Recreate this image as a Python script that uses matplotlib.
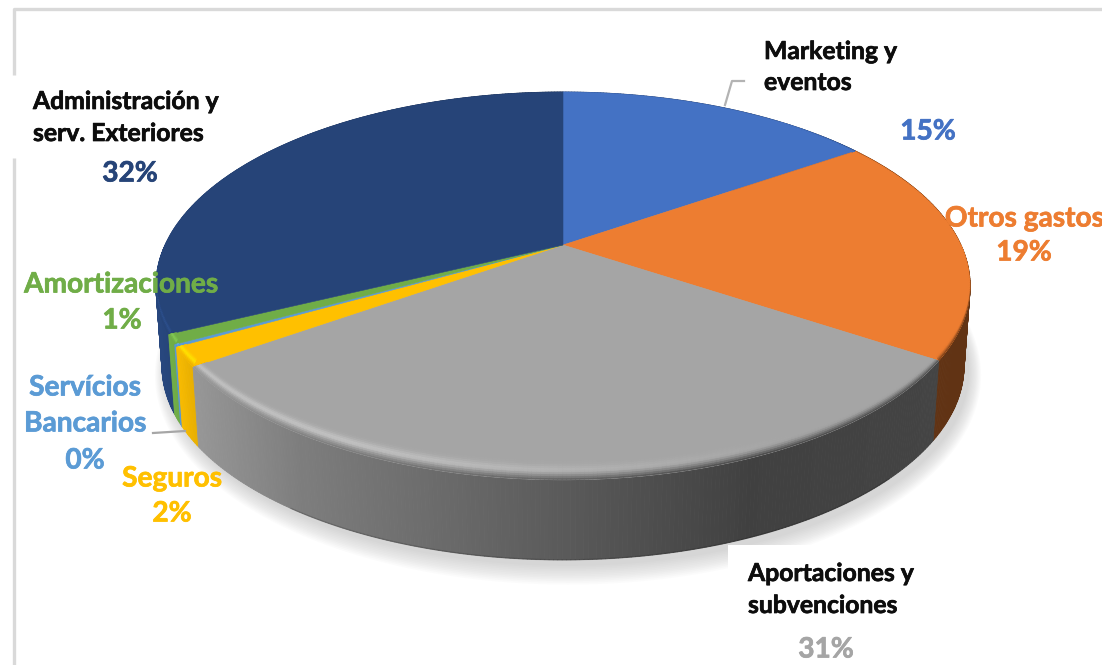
import matplotlib
matplotlib.use("Agg")
import matplotlib.pyplot as plt
import matplotlib.patheffects as pe
import numpy as np
from matplotlib.collections import PolyCollection
from matplotlib.colors import to_rgb
from matplotlib.patches import Polygon, Rectangle

# shares (percent), clockwise from 12 o'clock
categories = ["Marketing y eventos", "Otros gastos", "Aportaciones y subvenciones", "Seguros",
              "Servícios Bancarios", "Amortizaciones", "Administración y serv. Exteriores"]
shares = [15.4, 18.9, 30.9, 1.6, 0.2, 0.8, 32.2]
percent_labels = ["15%", "19%", "31%", "2%", "0%", "1%", "32%"]
colors = ["#4472c4", "#ed7d31", "#a5a5a5", "#ffc000", "#5b9bd5", "#70ad47", "#264478"]

W, H = 1102, 665
CX, CY = 563, 245
RX, RY, PERSP = 398, 185.3, 0.211
DEPTH, SHRINK = 80, 0.985


def project(theta, bottom=False, r=1.0):
    # disc -> screen, a small perspective turns the circle into an off-centre ellipse
    u, v = r * np.sin(theta), r * np.cos(theta)
    x = RX * u / (1 + PERSP * v)
    y = CY - RY * v / (1 + PERSP * v)
    if bottom:
        return CX + x * SHRINK, y + DEPTH
    return CX + x, y


def wall_shade(x):
    return np.interp(x, [160, 190, 300, 560, 750, 930, 975], [1.05, 0.92, 0.76, 0.55, 0.39, 0.41, 0.41])


plt.rcParams["font.family"] = ["Lato", "DejaVu Sans"]
fig = plt.figure(figsize=(W / 100, H / 100), dpi=100)
ax = fig.add_axes([0, 0, 1, 1])
ax.set_xlim(0, W)
ax.set_ylim(H, 0)
ax.axis("off")

# frame of the original screenshot
ax.plot([13.5, 13.5], [H, 158], color="#d9d9d9", lw=2.4, zorder=1, solid_capstyle="butt")
ax.plot([13.5, 13.5, W], [75, 8.5, 8.5], color="#d9d9d9", lw=2.4, zorder=1, solid_capstyle="butt")

# soft shadow under the pie
all_t = np.linspace(0, 2 * np.pi, 361)
bx, by = project(all_t, bottom=True)
for k in np.linspace(0, 1, 12):
    sx = CX + 5 + (bx - CX) * (1 + 0.03 * (1 - k))
    sy = CY + DEPTH + 6 + (by - CY - DEPTH) * (1 + 0.08 * (1 - k))
    ax.add_patch(Polygon(np.c_[sx, sy], closed=True, fc="#808080", ec="none", alpha=0.028, zorder=2))

edges = np.radians(np.r_[0, np.cumsum(shares)] * 3.6)

# side wall
quads, quad_cols, quad_y = [], [], []
for i, col in enumerate(colors):
    base = np.array(to_rgb(col))
    n = max(2, int(np.degrees(edges[i + 1] - edges[i]) * 2))
    t = np.linspace(edges[i], edges[i + 1], n + 1)
    tx, ty = project(t)
    ox, oy = project(t, bottom=True)
    for j in range(n):
        quads.append([(tx[j], ty[j]), (tx[j + 1], ty[j + 1]), (ox[j + 1], oy[j + 1]), (ox[j], oy[j])])
        quad_cols.append(np.clip(base * wall_shade((tx[j] + tx[j + 1]) / 2), 0, 1))
        quad_y.append((oy[j] + oy[j + 1]) / 2)
order = np.argsort(quad_y)
ax.add_collection(PolyCollection([quads[o] for o in order], facecolors=[quad_cols[o] for o in order],
                                 edgecolors=[quad_cols[o] for o in order], linewidths=0.6, zorder=3))

# dark line along the foot of the wall, front part only
ft = np.linspace(np.radians(135), np.radians(215), 81)
fx, fy = project(ft, bottom=True)
ax.plot(fx, fy, color="#000000", alpha=0.18, lw=1.0, zorder=3.1)

# top face with a bevel along the rim, clipped to each slice
depths = np.array([0, 2, 4, 6, 8, 10, 12, 14, 16, 18, 20, 22])
for i, col in enumerate(colors):
    base = np.array(to_rgb(col))
    n = max(2, int(np.degrees(edges[i + 1] - edges[i]) * 2))
    t = np.linspace(edges[i], edges[i + 1], n + 1)
    tx, ty = project(t)
    pts = np.r_[[[CX, CY]], np.c_[tx, ty]]
    face = Polygon(pts, closed=True, fc=col, ec=col, lw=0.4, zorder=4)
    ax.add_patch(face)

    rim_quads, rim_cols = [], []
    for j in range(n):
        tm = (t[j] + t[j + 1]) / 2
        xm = (tx[j] + tx[j + 1]) / 2
        vm = np.cos(tm)
        wall = np.clip(base * wall_shade(xm), 0, 1)
        if vm < 0:
            reach = min(1, -vm * 1.6)
            glow = 0.85 * np.clip((800 - xm) / 450, 0, 1)
            wall_w = 1.0
        else:
            reach = 0.18
            glow = 0
            wall_w = np.clip((xm - 780) / 110, 0, 1)
        if wall_w <= 0:
            continue
        bright = np.clip(base * 1.2, 0, 1)
        for d0, d1 in zip(depths[:-1], depths[1:]):
            dm = (d0 + d1) / 2
            a = np.clip(1 - dm / 10, 0, 1) ** 1.5          # wall colour fades out first
            g = glow * np.exp(-((dm - 10) / 5) ** 2)       # then a soft light band
            c = base * (1 - g) + bright * g
            c = c * (1 - a * wall_w) + wall * a * wall_w
            a0, b0 = -0.3 * np.sin(t[j]) * reach, np.cos(t[j]) * reach
            a1, b1 = -0.3 * np.sin(t[j + 1]) * reach, np.cos(t[j + 1]) * reach
            rim_quads.append([(tx[j] + a0 * d0, ty[j] + b0 * d0), (tx[j + 1] + a1 * d0, ty[j + 1] + b1 * d0),
                              (tx[j + 1] + a1 * d1, ty[j + 1] + b1 * d1), (tx[j] + a0 * d1, ty[j] + b0 * d1)])
            rim_cols.append(c)
    if rim_quads:
        rim = PolyCollection(rim_quads, facecolors=rim_cols, edgecolors=rim_cols, linewidths=0.5, zorder=5)
        ax.add_collection(rim)
        rim.set_clip_path(face)

# white box behind the lower right label
ax.add_patch(Rectangle((728, 545), 280, 75, fc="white", ec="none", zorder=6))

# leader lines
ax.plot([725, 732, 744], [105, 81, 81], color="#b3b3b3", lw=1.6, zorder=6)
ax.plot([153, 185], [433, 431], color="#a6a6a6", lw=1.6, zorder=6)

black = "#0d0d0d"


def label(x, y, s, color, ha="center", size=20.2):
    ax.text(x, y + 1.5, s, color=color, ha=ha, va="center", fontsize=size, fontweight="bold", zorder=7,
            path_effects=[pe.withStroke(linewidth=0.5, foreground=color)])


label(33, 100, "Administración y", black, "left", 17.8)
label(33, 132, "serv. Exteriores", black, "left", 17.8)
label(130, 172, percent_labels[6], colors[6])

label(764, 50, "Marketing y", black, "left", 17.8)
label(764, 81, "eventos", black, "left", 17.8)
label(928, 130, percent_labels[0], colors[0])

label(1024, 217, categories[1], colors[1])
label(1024, 251, percent_labels[1], colors[1])

label(121, 283, categories[5], colors[5])
label(122, 319, percent_labels[5], colors[5])

label(85, 386, "Servícios", colors[4])
label(85, 422, "Bancarios", colors[4])
label(85, 459, percent_labels[4], colors[4])

label(172, 477, categories[3], colors[3])
label(172, 512, percent_labels[3], colors[3])

label(748, 572, "Aportaciones y", black, "left", 17.8)
label(748, 604, "subvenciones", black, "left", 17.8)
label(826, 648, percent_labels[2], colors[2])

fig.savefig("out.png", dpi=100)
